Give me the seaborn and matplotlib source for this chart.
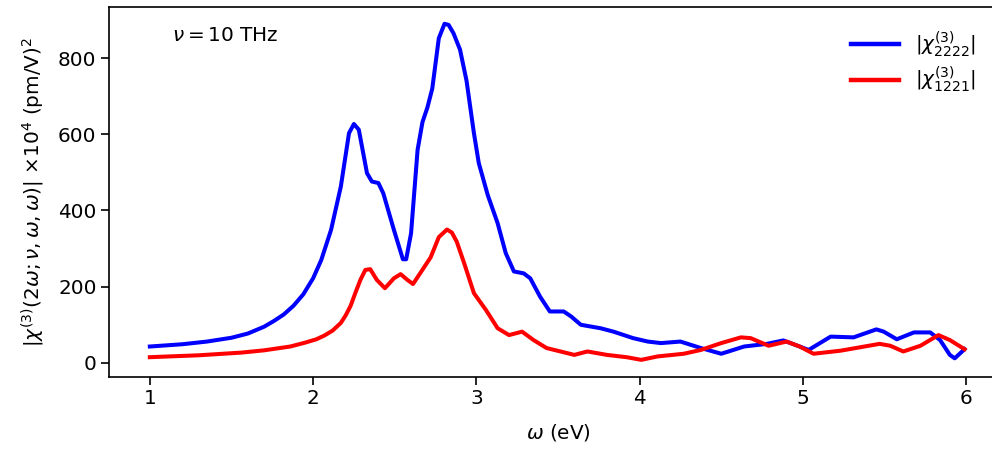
import matplotlib
matplotlib.use("Agg")
import matplotlib.pyplot as plt
import seaborn as sns
import pandas as pd

# Data
omega_2222 = [1.00, 1.20, 1.35, 1.50, 1.60, 1.70, 1.76, 1.82, 1.88, 1.94, 2.00, 2.05, 2.11, 2.17,
              2.22, 2.25, 2.28, 2.33, 2.36,
              2.40, 2.43, 2.495, 2.55, 2.57, 2.60, 2.64, 2.67, 2.70, 2.73, 2.77, 2.805, 2.83, 2.86,
              2.90, 2.94, 2.985, 3.015, 3.07, 3.13, 3.18, 3.23, 3.29, 3.33, 3.39, 3.45, 3.535, 3.58,
              3.64, 3.76, 3.84, 3.96, 4.05, 4.13, 4.25, 4.375, 4.50, 4.64, 4.78, 4.88, 4.98, 5.035,
              5.17, 5.31, 5.45, 5.495, 5.575, 5.68, 5.78, 5.84, 5.90, 5.93, 5.99]
chi_2222 = [43, 49, 56, 66, 77, 95, 110, 127, 150, 180, 222, 270, 349, 463,
            603, 627, 612, 498, 476,
            472, 445, 349, 272, 272, 340, 559, 632, 670, 720, 852, 890, 887, 865,
            822, 740, 603, 524, 440, 367, 288, 240, 235, 222, 174, 135, 135, 122,
            100, 91, 82, 65, 56, 52, 56, 39, 24, 43, 50, 59, 43, 34,
            69, 67, 88, 82, 62, 80, 80, 60, 21, 12, 36]

omega_1221 = [1.00, 1.30, 1.56, 1.70, 1.86, 1.95, 2.02, 2.07, 2.12, 2.17, 2.20, 2.23, 2.26, 2.29,
              2.32, 2.35, 2.39, 2.44, 2.495, 2.536,
              2.577, 2.612, 2.66, 2.72, 2.77, 2.82, 2.85, 2.88, 2.925, 2.985, 3.015, 3.06, 3.13,
              3.20, 3.28, 3.35, 3.43, 3.515, 3.60, 3.68, 3.80, 3.92, 4.01, 4.11, 4.27, 4.375,
              4.50, 4.62, 4.68, 4.79, 4.90, 4.98, 5.065, 5.23, 5.47, 5.535, 5.615, 5.72, 5.83,
              5.90, 5.99]
chi_1221 = [15, 20, 27, 33, 43, 53, 62, 72, 85, 105, 125, 150, 185, 218,
            244, 246, 218, 196, 222, 233,
            218, 207, 238, 277, 330, 350, 342, 318, 262, 183, 165, 138, 91,
            73, 82, 60, 39, 30, 21, 30, 21, 15, 8, 17, 24, 34,
            52, 67, 65, 45, 56, 43, 24, 32, 50, 45, 30, 45, 73,
            60, 36]

labels = [r'$|\chi^{(3)}_{2222}|$', r'$|\chi^{(3)}_{1221}|$']
colors = ['blue', 'red']

df = pd.concat([
    pd.DataFrame({'omega': omega_2222, 'chi': chi_2222, 'comp': labels[0]}),
    pd.DataFrame({'omega': omega_1221, 'chi': chi_1221, 'comp': labels[1]}),
], ignore_index=True)

fs = 14.4
plt.rcParams['font.size'] = fs
plt.rcParams['axes.linewidth'] = 1.2
fig = plt.figure(figsize=(9.92, 4.5), dpi=100)
ax = fig.add_axes([109/992, 73/450, 898/992, 370/450])

sns.lineplot(data=df, x='omega', y='chi', hue='comp', palette=dict(zip(labels, colors)),
             linewidth=2.9, ax=ax, sort=True, estimator=None)

ax.set_xlim(0.75, 6.25)
ax.set_ylim(-37, 934)
ax.set_xticks([1, 2, 3, 4, 5, 6])
ax.set_yticks([0, 200, 400, 600, 800])
ax.set_xlabel(r'$\omega$ (eV)', fontsize=fs, labelpad=10)
ax.set_ylabel(r'$|\chi^{(3)}(2\omega;\nu,\omega,\omega)|$ $\times 10^4$ (pm/V)$^2$', fontsize=fs,
              labelpad=8)
ax.tick_params(labelsize=fs, length=5.5, width=1.2)
ax.text(0.07, 0.924, r'$\nu = 10$ THz', transform=ax.transAxes, fontsize=fs, va='center')

leg = ax.legend(loc='upper right', bbox_to_anchor=(0.985, 0.99), frameon=False, fontsize=fs,
                handlelength=2.4, labelspacing=0.3)
for line in leg.get_lines():
    line.set_linewidth(3.2)

fig.savefig('out.png', dpi=100)
